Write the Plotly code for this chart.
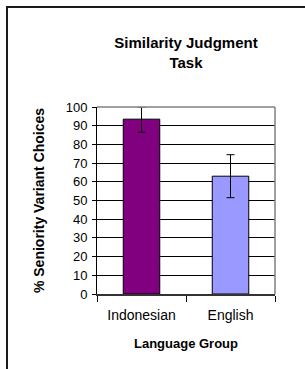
import plotly.graph_objects as go

categories = ["Indonesian", "English"]
values = [93.5, 63.0]
err_plus = [6.5, 11.5]
err_minus = [7.0, 11.5]
bar_colors = ["#800080", "#9999FF"]
y_ticks = [0, 10, 20, 30, 40, 50, 60, 70, 80, 90, 100]

FONT = "Arial, Liberation Sans, sans-serif"

W, H = 305, 369
ML, MR, MT, MB = 97, 30, 107, 75
pw, ph = W - ML - MR, H - MT - MB

def px_x(px):
    return (px - ML) / pw

def px_y(py):
    return (H - MB - py) / ph

fig = go.Figure(
    go.Bar(
        x=categories,
        y=values,
        marker=dict(color=bar_colors, line=dict(color="black", width=1)),
        error_y=dict(type="data", symmetric=False, array=err_plus, arrayminus=err_minus,
                     color="black", thickness=1, width=4),
        width=0.41,
    )
)

fig.update_layout(
    width=W, height=H,
    margin=dict(l=ML, r=MR, t=MT, b=MB, pad=0),
    paper_bgcolor="white", plot_bgcolor="white",
    showlegend=False,
    font=dict(family=FONT, color="black", size=13),
    title=dict(
        text="Similarity Judgment<br>Task",
        font=dict(family=FONT, size=15, weight="bold", color="black"),
        x=0.5, xref="paper", xanchor="center",
        y=1 - 48 / H, yref="container", yanchor="middle",
    ),
    shapes=[
        dict(type="line", xref="paper", yref="paper", x0=px_x(7), x1=px_x(7), y0=px_y(H + 5), y1=px_y(6.5),
             line=dict(color="#1a1a1a", width=2)),
        dict(type="line", xref="paper", yref="paper", x0=px_x(6), x1=px_x(W + 5), y0=px_y(7), y1=px_y(7),
             line=dict(color="#1a1a1a", width=2)),
        dict(type="line", xref="paper", yref="paper", x0=0, x1=1, y0=1, y1=1, layer="above",
             line=dict(color="#808080", width=1.5)),
        dict(type="line", xref="paper", yref="paper", x0=1, x1=1, y0=0, y1=1, layer="above",
             line=dict(color="#808080", width=1.5)),
    ],
)

fig.update_yaxes(
    range=[0, 100], tickvals=y_ticks, showgrid=True, gridcolor="black", gridwidth=1,
    showline=True, linecolor="black", linewidth=1, ticks="outside", ticklen=4, tickcolor="black",
    tickfont=dict(size=13, color="black"), zeroline=False, ticklabelstandoff=2,
    title=dict(text="% Seniority Variant Choices", font=dict(size=14, weight="bold"), standoff=17),
)
fig.update_xaxes(
    showline=True, linecolor="#333333", linewidth=1.5, ticks="outside", ticklen=6, tickcolor="black",
    tickson="boundaries", tickfont=dict(size=14, color="black"), ticklabelstandoff=7,
    title=dict(text="Language Group", font=dict(size=13, weight="bold"), standoff=17),
)

fig.write_html(
    "out.html",
    config={"displayModeBar": False},
    post_script="document.body.style.margin='0';document.body.style.overflow='hidden';",
)
